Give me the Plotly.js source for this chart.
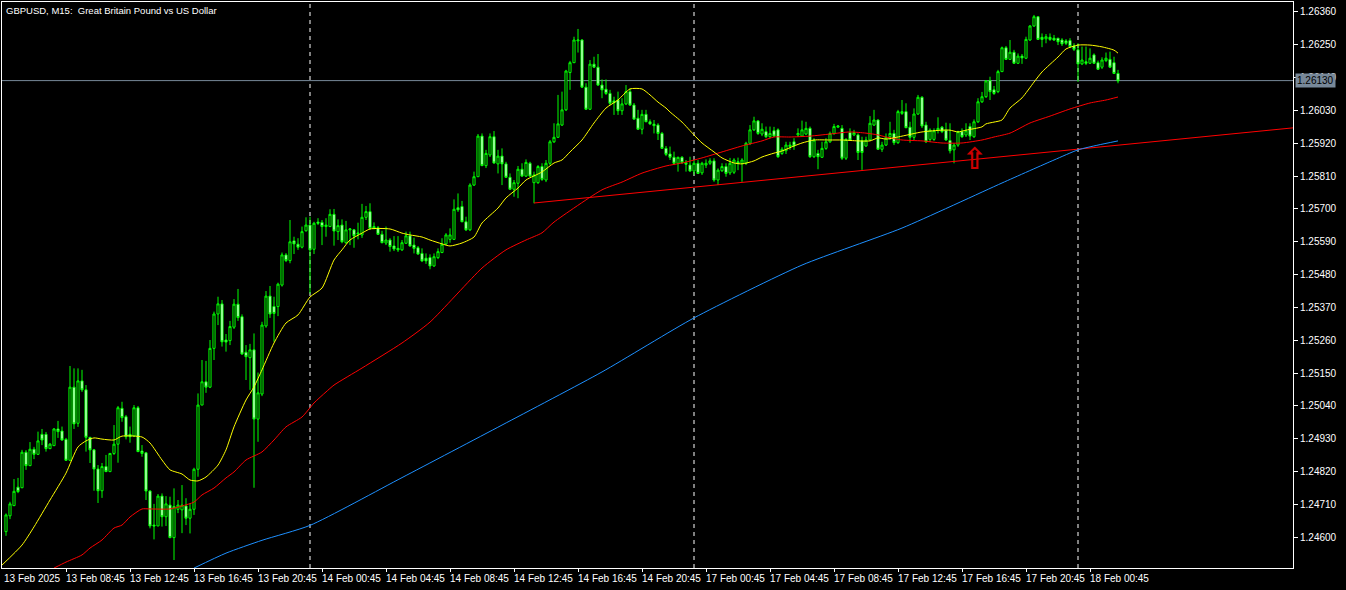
<!DOCTYPE html>
<html><head><meta charset="utf-8">
<script src="https://cdn.plot.ly/plotly-3.0.1.min.js"></script>
<style>html,body{margin:0;padding:0;background:#000;overflow:hidden}#chart{width:1346px;height:590px}</style>
</head><body><div id="chart"></div>
<script>
const symbolTitle = 'GBPUSD, M15:  Great Britain Pound vs US Dollar';
const opens = [1.24619,1.24672,1.24706,1.24768,1.24766,1.24885,1.24840,1.24895,1.24878,1.24945,1.24945,1.24897,1.24907,1.24963,1.24956,1.24928,1.24858,1.25103,1.24982,1.25124,1.25094,1.24935,1.24893,1.24829,1.24756,1.24837,1.24820,1.24881,1.24912,1.25032,1.25004,1.24945,1.24939,1.25034,1.24889,1.24883,1.24755,1.24641,1.24638,1.24738,1.24669,1.24708,1.24599,1.24694,1.24692,1.24705,1.24664,1.24694,1.24828,1.25043,1.25121,1.25103,1.25233,1.25348,1.25382,1.25261,1.25259,1.25304,1.25381,1.25339,1.25220,1.25202,1.25228,1.24996,1.25080,1.25308,1.25408,1.25373,1.25373,1.25445,1.25546,1.25527,1.25593,1.25582,1.25572,1.25627,1.25646,1.25565,1.25656,1.25655,1.25641,1.25641,1.25682,1.25624,1.25646,1.25587,1.25630,1.25630,1.25616,1.25613,1.25672,1.25691,1.25634,1.25637,1.25615,1.25586,1.25596,1.25576,1.25568,1.25563,1.25585,1.25610,1.25579,1.25570,1.25551,1.25535,1.25537,1.25509,1.25537,1.25554,1.25583,1.25598,1.25598,1.25704,1.25708,1.25657,1.25630,1.25780,1.25808,1.25944,1.25845,1.25881,1.25942,1.25851,1.25877,1.25851,1.25806,1.25766,1.25786,1.25833,1.25810,1.25853,1.25788,1.25788,1.25842,1.25797,1.25853,1.25925,1.25940,1.25981,1.26032,1.26157,1.26190,1.26263,1.26266,1.26108,1.26034,1.26185,1.26175,1.26115,1.26101,1.26087,1.26062,1.26065,1.26029,1.26052,1.26093,1.26048,1.26004,1.25967,1.26017,1.25992,1.25984,1.25981,1.25953,1.25903,1.25884,1.25873,1.25853,1.25873,1.25855,1.25847,1.25827,1.25853,1.25821,1.25847,1.25853,1.25861,1.25797,1.25828,1.25842,1.25821,1.25823,1.25858,1.25853,1.25853,1.25920,1.25965,1.25995,1.25951,1.25959,1.25942,1.25962,1.25965,1.25886,1.25895,1.25909,1.25925,1.25948,1.25944,1.25951,1.25970,1.25875,1.25886,1.25873,1.25903,1.25925,1.25953,1.25974,1.25970,1.25870,1.25956,1.25948,1.25948,1.25929,1.25911,1.25931,1.25981,1.25998,1.25900,1.25914,1.25942,1.25953,1.25922,1.26020,1.26026,1.25974,1.25940,1.26018,1.26074,1.25981,1.25933,1.25933,1.25964,1.25974,1.25964,1.25929,1.25898,1.25914,1.25959,1.25948,1.25976,1.25942,1.25992,1.26059,1.26076,1.26130,1.26099,1.26093,1.26160,1.26240,1.26201,1.26225,1.26188,1.26212,1.26205,1.26266,1.26313,1.26344,1.26275,1.26270,1.26275,1.26272,1.26272,1.26266,1.26263,1.26264,1.26246,1.26233,1.26186,1.26193,1.26188,1.26216,1.26190,1.26175,1.26197,1.26201,1.26190,1.26154];
const highs = [1.24680,1.24719,1.24795,1.24799,1.24893,1.24892,1.24919,1.24903,1.24954,1.24963,1.24953,1.24916,1.24966,1.24990,1.24971,1.24933,1.25174,1.25166,1.25166,1.25161,1.25110,1.24936,1.24896,1.24842,1.24849,1.24876,1.24882,1.24976,1.25040,1.25054,1.25010,1.24971,1.25043,1.25040,1.24909,1.24886,1.24758,1.24712,1.24745,1.24747,1.24738,1.24736,1.24764,1.24725,1.24775,1.24731,1.24714,1.24833,1.25082,1.25194,1.25191,1.25261,1.25356,1.25406,1.25395,1.25281,1.25325,1.25398,1.25432,1.25347,1.25244,1.25248,1.25283,1.25152,1.25322,1.25425,1.25442,1.25406,1.25453,1.25554,1.25552,1.25663,1.25607,1.25602,1.25641,1.25672,1.25674,1.25657,1.25669,1.25663,1.25669,1.25699,1.25700,1.25665,1.25665,1.25660,1.25636,1.25633,1.25654,1.25717,1.25710,1.25719,1.25655,1.25643,1.25627,1.25641,1.25602,1.25609,1.25609,1.25596,1.25624,1.25624,1.25604,1.25576,1.25568,1.25551,1.25548,1.25551,1.25568,1.25602,1.25619,1.25635,1.25732,1.25752,1.25727,1.25674,1.25786,1.25825,1.25951,1.25953,1.25898,1.25953,1.25961,1.25898,1.25903,1.25858,1.25819,1.25797,1.25844,1.25853,1.25866,1.25858,1.25825,1.25847,1.25853,1.25864,1.25931,1.25987,1.26082,1.26093,1.26166,1.26196,1.26277,1.26303,1.26269,1.26121,1.26199,1.26210,1.26219,1.26134,1.26134,1.26099,1.26076,1.26093,1.26071,1.26115,1.26104,1.26055,1.26032,1.26032,1.26032,1.26000,1.25998,1.25987,1.25958,1.25911,1.25909,1.25892,1.25875,1.25877,1.25864,1.25875,1.25864,1.25864,1.25858,1.25866,1.25870,1.25870,1.25836,1.25853,1.25853,1.25871,1.25870,1.25872,1.25870,1.25925,1.25981,1.26009,1.25998,1.25987,1.25976,1.25976,1.25975,1.25970,1.25907,1.25925,1.25925,1.25937,1.25970,1.25996,1.25992,1.25976,1.25937,1.25898,1.25925,1.25937,1.25959,1.25985,1.25981,1.25981,1.25937,1.25970,1.25965,1.25953,1.25942,1.25942,1.26011,1.26032,1.26000,1.25925,1.25953,1.25992,1.25965,1.26032,1.26065,1.26054,1.25992,1.26037,1.26082,1.26078,1.25992,1.25970,1.25970,1.26007,1.25978,1.25989,1.25987,1.25920,1.25962,1.25970,1.25987,1.25987,1.26000,1.26071,1.26092,1.26132,1.26143,1.26112,1.26166,1.26244,1.26246,1.26266,1.26233,1.26221,1.26219,1.26277,1.26316,1.26350,1.26346,1.26288,1.26286,1.26288,1.26283,1.26273,1.26272,1.26269,1.26272,1.26255,1.26255,1.26244,1.26244,1.26238,1.26221,1.26197,1.26208,1.26224,1.26227,1.26210,1.26166];
const lows = [1.24605,1.24661,1.24705,1.24748,1.24765,1.24826,1.24839,1.24862,1.24876,1.24909,1.24887,1.24896,1.24906,1.24933,1.24923,1.24856,1.24856,1.24963,1.24970,1.25087,1.24887,1.24849,1.24756,1.24715,1.24732,1.24819,1.24819,1.24876,1.24850,1.24987,1.24928,1.24917,1.24936,1.24886,1.24870,1.24725,1.24630,1.24593,1.24638,1.24636,1.24638,1.24597,1.24524,1.24681,1.24614,1.24641,1.24613,1.24675,1.24803,1.25043,1.25084,1.25100,1.25194,1.25311,1.25239,1.25222,1.25244,1.25298,1.25325,1.25211,1.25127,1.25094,1.24766,1.24920,1.25073,1.25302,1.25335,1.25255,1.25341,1.25440,1.25522,1.25518,1.25549,1.25563,1.25568,1.25624,1.25417,1.25549,1.25646,1.25579,1.25607,1.25640,1.25577,1.25596,1.25585,1.25583,1.25579,1.25570,1.25598,1.25603,1.25663,1.25630,1.25633,1.25613,1.25585,1.25579,1.25557,1.25559,1.25556,1.25559,1.25583,1.25573,1.25551,1.25546,1.25522,1.25516,1.25498,1.25506,1.25532,1.25552,1.25579,1.25587,1.25596,1.25690,1.25656,1.25626,1.25626,1.25777,1.25807,1.25844,1.25837,1.25874,1.25851,1.25819,1.25780,1.25804,1.25764,1.25741,1.25736,1.25807,1.25807,1.25807,1.25719,1.25784,1.25794,1.25790,1.25847,1.25921,1.25938,1.25978,1.26028,1.26099,1.26189,1.26224,1.26105,1.26032,1.26032,1.26172,1.26112,1.26071,1.26082,1.26048,1.26015,1.26015,1.26015,1.26048,1.26045,1.25998,1.25965,1.25950,1.25991,1.25981,1.25953,1.25931,1.25901,1.25877,1.25864,1.25847,1.25825,1.25851,1.25825,1.25824,1.25814,1.25817,1.25814,1.25837,1.25847,1.25791,1.25780,1.25824,1.25808,1.25814,1.25817,1.25830,1.25791,1.25847,1.25914,1.25961,1.25948,1.25944,1.25937,1.25938,1.25941,1.25871,1.25881,1.25884,1.25898,1.25898,1.25941,1.25941,1.25948,1.25871,1.25871,1.25833,1.25871,1.25898,1.25921,1.25948,1.25971,1.25864,1.25864,1.25928,1.25944,1.25864,1.25831,1.25908,1.25928,1.25978,1.25898,1.25891,1.25911,1.25931,1.25914,1.25918,1.26015,1.25971,1.25922,1.25931,1.26015,1.25971,1.25921,1.25924,1.25928,1.25953,1.25954,1.25928,1.25886,1.25853,1.25908,1.25938,1.25941,1.25931,1.25938,1.25988,1.26055,1.26072,1.26065,1.26082,1.26088,1.26159,1.26199,1.26199,1.26186,1.26186,1.26186,1.26202,1.26263,1.26310,1.26266,1.26242,1.26255,1.26263,1.26263,1.26249,1.26246,1.26249,1.26239,1.26229,1.26126,1.26182,1.26182,1.26186,1.26186,1.26166,1.26169,1.26192,1.26172,1.26152,1.26121];
const closes = [1.24675,1.24712,1.24754,1.24753,1.24885,1.24840,1.24895,1.24878,1.24923,1.24926,1.24897,1.24912,1.24963,1.24954,1.24926,1.24858,1.25103,1.24980,1.25124,1.25094,1.24935,1.24893,1.24829,1.24756,1.24837,1.24820,1.24881,1.24912,1.25034,1.25001,1.24937,1.24937,1.25034,1.24887,1.24881,1.24755,1.24638,1.24638,1.24738,1.24669,1.24712,1.24599,1.24703,1.24708,1.24708,1.24664,1.24694,1.24828,1.25043,1.25121,1.25103,1.25233,1.25348,1.25382,1.25255,1.25254,1.25306,1.25381,1.25336,1.25214,1.25205,1.25228,1.24996,1.25084,1.25311,1.25408,1.25348,1.25350,1.25448,1.25546,1.25527,1.25590,1.25583,1.25572,1.25624,1.25646,1.25563,1.25652,1.25652,1.25641,1.25646,1.25682,1.25626,1.25644,1.25590,1.25630,1.25633,1.25610,1.25619,1.25672,1.25691,1.25635,1.25641,1.25615,1.25587,1.25596,1.25574,1.25566,1.25563,1.25587,1.25610,1.25576,1.25568,1.25549,1.25526,1.25526,1.25509,1.25540,1.25557,1.25582,1.25613,1.25613,1.25699,1.25697,1.25657,1.25630,1.25780,1.25808,1.25944,1.25845,1.25886,1.25942,1.25854,1.25877,1.25851,1.25806,1.25766,1.25788,1.25833,1.25810,1.25856,1.25810,1.25814,1.25842,1.25799,1.25853,1.25925,1.25940,1.25985,1.26032,1.26162,1.26190,1.26266,1.26266,1.26108,1.26034,1.26185,1.26175,1.26115,1.26099,1.26087,1.26054,1.26056,1.26029,1.26052,1.26093,1.26048,1.26001,1.25967,1.26017,1.25992,1.25985,1.25979,1.25953,1.25903,1.25883,1.25873,1.25853,1.25873,1.25855,1.25850,1.25827,1.25853,1.25819,1.25853,1.25853,1.25861,1.25797,1.25830,1.25842,1.25819,1.25853,1.25864,1.25853,1.25864,1.25920,1.25965,1.25995,1.25953,1.25967,1.25942,1.25953,1.25944,1.25875,1.25900,1.25914,1.25914,1.25911,1.25953,1.25965,1.25970,1.25875,1.25931,1.25875,1.25903,1.25925,1.25953,1.25976,1.25978,1.25870,1.25933,1.25931,1.25956,1.25889,1.25889,1.25931,1.25987,1.25998,1.25900,1.25914,1.25940,1.25953,1.25922,1.26026,1.26026,1.25972,1.25940,1.26018,1.26074,1.25978,1.25925,1.25964,1.25962,1.25970,1.25959,1.25931,1.25895,1.25914,1.25959,1.25942,1.25962,1.25944,1.25992,1.26059,1.26076,1.26129,1.26093,1.26087,1.26160,1.26240,1.26201,1.26225,1.26188,1.26212,1.26206,1.26268,1.26313,1.26344,1.26268,1.26268,1.26277,1.26268,1.26266,1.26260,1.26253,1.26255,1.26244,1.26235,1.26186,1.26199,1.26188,1.26205,1.26188,1.26168,1.26199,1.26205,1.26175,1.26154,1.26129];

// Moving averages (bar index, price)
const maFastBars = [-1,4,7,11,15,18,20,22,24,27,29,34,36,39,41,44,46,48,50,53,55,57,60,62,64,67,70,73,76,79,82,84,86,89,91,96,99,101,104,106,109,111,114,117,119,123,125,128,130,134,137,139,141,144,147,150,153,156,159,161,163,165,166,169,172,174,177,179,182,184,187,189,192,194,197,199,202,206,209,213,216,218,220,224,229,234,236,238,240,244,245,247,249,251,254,257,259,263,265,268,271,274,277,278];
const maFastVals = [1.24507,1.24574,1.24635,1.24725,1.24815,1.24903,1.24923,1.24933,1.24929,1.24926,1.24939,1.24936,1.24916,1.24859,1.24826,1.24812,1.24792,1.24789,1.24802,1.24842,1.24893,1.24970,1.25060,1.25104,1.25161,1.25251,1.25318,1.25345,1.25405,1.25435,1.25529,1.25563,1.25596,1.25619,1.25633,1.25633,1.25619,1.25613,1.25606,1.25596,1.25583,1.25576,1.25586,1.25606,1.25653,1.25703,1.25737,1.25770,1.25797,1.25824,1.25854,1.25864,1.25891,1.25931,1.25988,1.26038,1.26065,1.26102,1.26102,1.26082,1.26058,1.26038,1.26025,1.25991,1.25948,1.25921,1.25891,1.25871,1.25854,1.25851,1.25861,1.25874,1.25887,1.25894,1.25911,1.25921,1.25931,1.25931,1.25931,1.25928,1.25928,1.25938,1.25934,1.25944,1.25958,1.25964,1.25964,1.25958,1.25964,1.25975,1.25985,1.25991,1.25998,1.26038,1.26072,1.26125,1.26159,1.26209,1.26236,1.26249,1.26249,1.26243,1.26232,1.26222];
const maMidBars = [12,15,19,21,24,27,29,31,34,36,41,44,47,49,52,55,57,60,64,67,70,74,77,80,82,89,99,106,119,125,130,134,137,149,154,159,165,169,174,179,184,189,192,196,201,206,211,215,218,220,224,229,234,239,244,247,251,256,261,266,271,275,278];
const maMidVals = [1.24497,1.24517,1.24541,1.24564,1.24591,1.24631,1.24641,1.24668,1.24695,1.24695,1.24695,1.24705,1.24718,1.24742,1.24765,1.24799,1.24819,1.24859,1.24886,1.24926,1.24970,1.25003,1.25050,1.25087,1.25110,1.25167,1.25251,1.25321,1.25502,1.25563,1.25596,1.25620,1.25656,1.25764,1.25790,1.25820,1.25844,1.25854,1.25871,1.25891,1.25911,1.25928,1.25941,1.25941,1.25944,1.25951,1.25958,1.25954,1.25948,1.25941,1.25931,1.25928,1.25921,1.25921,1.25931,1.25941,1.25954,1.25988,1.26011,1.26035,1.26055,1.26065,1.26075];
const maSlowBars = [47,55,64,76,99,124,149,172,199,224,249,262,268,273,278];
const maSlowVals = [1.24497,1.24547,1.24590,1.24640,1.24800,1.24976,1.25154,1.25335,1.25512,1.25636,1.25787,1.25864,1.25898,1.25914,1.25928];

// Trend line object (anchor bars and prices)
const trendBars = [132, 322];
const trendVals = [1.25720, 1.25972];

const bidPrice = 1.26130;
const daySeparatorBars = [76, 172, 268];
const arrowBar = 242, arrowPrice = 1.25934;

const xLabelText = ['13 Feb 2025','13 Feb 08:45','13 Feb 12:45','13 Feb 16:45','13 Feb 20:45','14 Feb 00:45','14 Feb 04:45','14 Feb 08:45','14 Feb 12:45','14 Feb 16:45','14 Feb 20:45','17 Feb 00:45','17 Feb 04:45','17 Feb 08:45','17 Feb 12:45','17 Feb 16:45','17 Feb 20:45','18 Feb 00:45'];
const xLabelBars = [-0.5,15,31,47,63,79,95,111,127,143,159,175,191,207,223,239,255,271];
const yTickVals = [1.24600,1.24710,1.24820,1.24930,1.25040,1.25150,1.25260,1.25370,1.25480,1.25590,1.25700,1.25810,1.25920,1.26030,1.26140,1.26250,1.26360];

const bars = opens.map((_, i) => i);
const FONT = 'Liberation Sans, Arial, sans-serif';

const traces = [
  {type:'candlestick', x:bars, open:opens, high:highs, low:lows, close:closes,
   increasing:{line:{color:'#00ff00', width:1}, fillcolor:'#000000'},
   decreasing:{line:{color:'#00ff00', width:1}, fillcolor:'#ffffff'},
   whiskerwidth:0, hoverinfo:'skip'},
  {type:'scatter', mode:'lines', x:trendBars, y:trendVals, line:{color:'#ff0000', width:1}, hoverinfo:'skip'},
  {type:'scatter', mode:'lines', x:maSlowBars, y:maSlowVals, line:{color:'#1e90ff', width:1, shape:'spline', smoothing:0.6}, hoverinfo:'skip'},
  {type:'scatter', mode:'lines', x:maMidBars, y:maMidVals, line:{color:'#ff0000', width:1, shape:'spline', smoothing:0.6}, hoverinfo:'skip'},
  {type:'scatter', mode:'lines', x:maFastBars, y:maFastVals, line:{color:'#ffff00', width:1, shape:'spline', smoothing:0.6}, hoverinfo:'skip'}
];

const shapes = daySeparatorBars.map(b => ({type:'line', xref:'x', yref:'paper', x0:b, x1:b, y0:0, y1:1, layer:'below', line:{color:'#ffffff', width:1, dash:'4px,4px'}}));
shapes.push({type:'line', xref:'paper', yref:'y', x0:0, x1:1, y0:bidPrice, y1:bidPrice, layer:'below', line:{color:'#778899', width:1}});

const annotations = [
  {xref:'paper', yref:'paper', x:0, y:1, xanchor:'left', yanchor:'top', xshift:2, yshift:-1, text:symbolTitle, showarrow:false, font:{family:FONT, size:9.5, color:'#ffffff'}},
  {xref:'paper', yref:'y', x:1, y:bidPrice, xanchor:'left', yanchor:'middle', xshift:2, text:bidPrice.toFixed(5), showarrow:false, bgcolor:'#778899', borderpad:1, font:{family:FONT, size:10, color:'#000000'}},
  {xref:'x', yref:'y', x:arrowBar, y:arrowPrice, xanchor:'center', yanchor:'top', text:'<b>\u21E7</b>', showarrow:false, font:{family:'DejaVu Sans', size:30, color:'#cc0000'}}
];
xLabelText.forEach((t, k) => annotations.push({xref:'x', yref:'paper', x:xLabelBars[k], y:0, xanchor:'left', yanchor:'top', xshift:-2, yshift:-3, text:t, showarrow:false, font:{family:FONT, size:10, color:'#ffffff'}}));

const layout = {
  width:1346, height:590,
  margin:{l:2, r:53, t:2, b:22, pad:0},
  paper_bgcolor:'#000000', plot_bgcolor:'#000000',
  showlegend:false, boxgap:0.25, hovermode:false,
  font:{family:FONT, size:10, color:'#ffffff'},
  xaxis:{range:[-1, 321.75], showgrid:false, zeroline:false, showline:true, mirror:true, linecolor:'#ffffff', linewidth:1,
         tickvals:xLabelBars.slice(1), ticks:'outside', ticklen:3, tickcolor:'#ffffff', showticklabels:false,
         rangeslider:{visible:false}, fixedrange:true},
  yaxis:{range:[1.244972, 1.263933], side:'right', showgrid:false, zeroline:false, showline:true, mirror:true,
         linecolor:'#ffffff', linewidth:1, tickvals:yTickVals, ticktext:yTickVals.map(v => v.toFixed(5)),
         ticks:'outside', ticklen:4, tickcolor:'#ffffff', tickfont:{family:FONT, size:10, color:'#ffffff'}, fixedrange:true},
  shapes:shapes, annotations:annotations
};

Plotly.newPlot('chart', traces, layout, {displayModeBar:false, staticPlot:true});
</script></body></html>
